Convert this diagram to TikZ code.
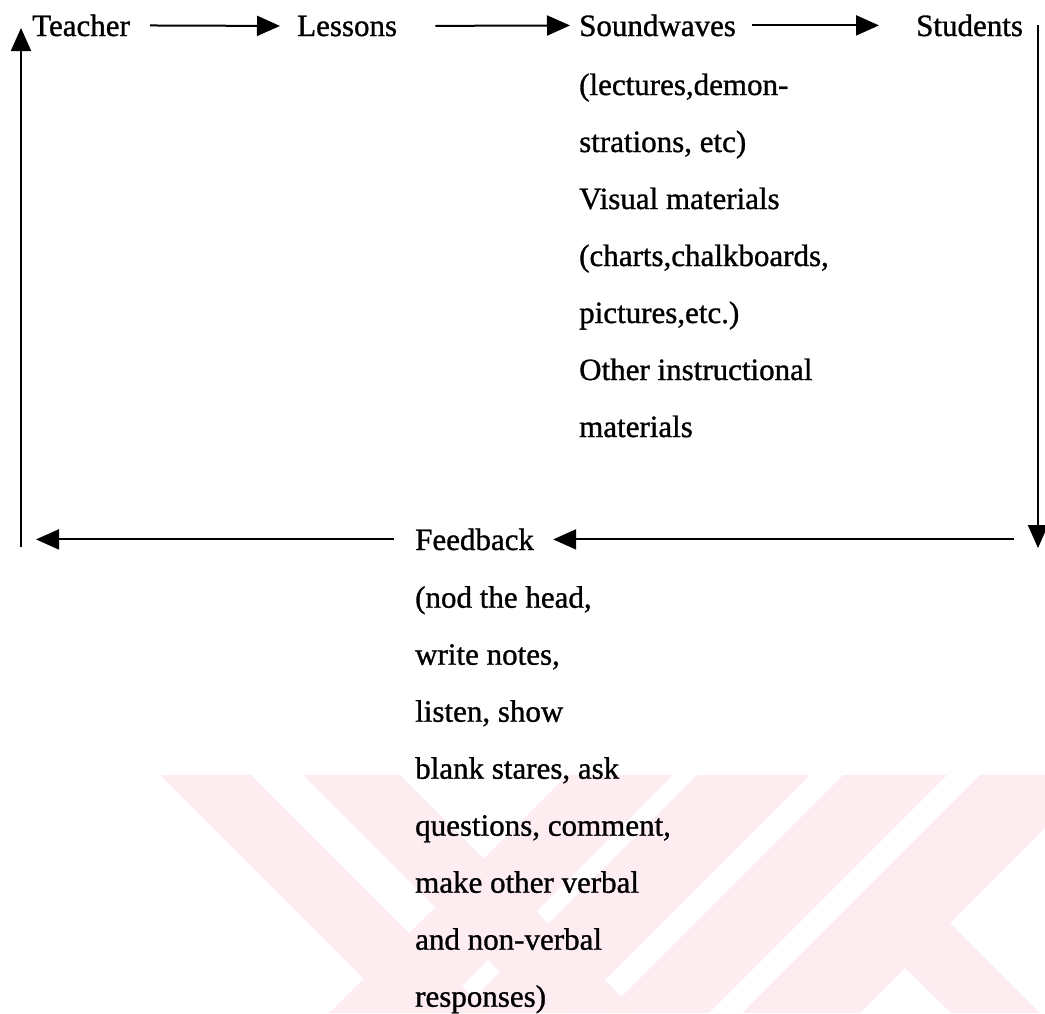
\documentclass[tikz,border=0pt]{standalone}
\usepackage{fontspec}
\setmainfont{Liberation Serif}[BoldFont={Liberation Serif}, BoldFeatures={FakeBold=1}]
\usepackage{tikz}
\usetikzlibrary{calc, positioning, arrows.meta}
\definecolor{wmpink}{RGB}{253,236,240}

\begin{document}
\begin{tikzpicture}[x=1pt, y=-1pt,
      label1/.style={anchor=base west, inner sep=0pt, font=\fontsize{31}{57.5}\selectfont\bfseries},
      list1/.style={align=left, inner sep=0pt, font=\fontsize{31}{57}\selectfont\bfseries},
      flow/.style={-{Triangle[length=23pt, width=20pt]}, line width=2pt},
      ]
      \useasboundingbox (0,0) rectangle (1045,1013);

      %Watermark
      \begin{scope}
        \clip (0,0) rectangle (1045,1013);
        \fill[wmpink] (160,775) -- (251,775) -- (489,1013) -- (398,1013) -- cycle;
        \fill[wmpink] (303,775) -- (400,775) -- (638,1013) -- (541,1013) -- cycle;
        \fill[wmpink] (567,775) -- (673,775) -- (435,1013) -- (329,1013) -- cycle;
        \fill[wmpink] (697,775) -- (810,775) -- (572,1013) -- (459,1013) -- cycle;
        \fill[wmpink] (843,775) -- (947,775) -- (709,1013) -- (605,1013) -- cycle;
        \fill[wmpink] (980,775) -- (1098,775) -- (860,1013) -- (742,1013) -- cycle;
        \fill[wmpink] (905,968) -- (950,923) -- (1040,1013) -- (951,1013) -- cycle;
      \end{scope}

      %Nodes
      \node[label1] (teacher)  at (32,36)  {Teacher};
      \node[label1] (lessons)  at (297,36) {Lessons};
      \node[label1] (sound)    at (579,36) {Soundwaves};
      \node[label1] (students) at (916,36) {Students};
      \node[label1] (feedback) at (415,550) {Feedback};

      \node[list1, below right=36.8pt and 0pt of sound.south west] (soundlist)
        {(lectures,demon-\\ strations, etc)\\ Visual materials\\ (charts,chalkboards,\\
         pictures,etc.)\\ Other instructional\\ materials};
      \node[list1, below right=35.5pt and 0pt of feedback.south west] (feedlist)
        {(nod the head,\\ write notes,\\ listen, show\\ blank stares, ask\\
         questions, comment,\\ make other verbal\\ and non-verbal\\ responses)};

      \coordinate (ne) at (1038,25);
      \coordinate (se) at (1038,548);
      \coordinate (fbin) at (1014,540);
      \coordinate (fbout) at (36,540);
      \coordinate (sw) at (21,547);
      \coordinate (nw) at (21,28);

      %Lines
      \draw[flow, shorten <=20pt, shorten >=17pt] (teacher.east) -- (lessons.west);
      \draw[flow, shorten <=38pt, shorten >=9pt] (lessons.east) -- (sound.west);
      \draw[flow, shorten <=16pt, shorten >=37pt] (sound.east) -- (students.west);
      \draw[flow] (ne) -- (se);
      \draw[flow, shorten >=19pt] (feedback.east -| fbin) -- (feedback.east);
      \draw[flow, shorten <=21pt] (feedback.west) -- (feedback.west -| fbout);
      \draw[flow] (sw) -- (nw);
    \end{tikzpicture}
\end{document}
